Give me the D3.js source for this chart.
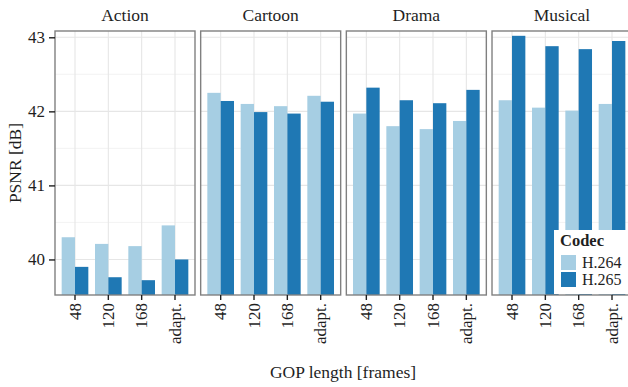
<!DOCTYPE html>
<html>
<head>
<meta charset="utf-8">
<script src="https://cdn.jsdelivr.net/npm/d3@7"></script>
<style>
  html, body { margin: 0; padding: 0; background: #fff; }
  svg { display: block; font-family: "Liberation Serif", serif; }
</style>
</head>
<body>
<svg id="chart" width="628" height="387"></svg>
<script>
// PSNR per genre, codec and GOP length
const genres = ["Action", "Cartoon", "Drama", "Musical"];
const gopLabels = ["48", "120", "168", "adapt."];
const codecs = ["H.264", "H.265"];
const yTicks = [40, 41, 42, 43];

const actionH264  = [40.30, 40.21, 40.18, 40.46];
const actionH265  = [39.90, 39.76, 39.72, 40.00];
const cartoonH264 = [42.25, 42.10, 42.07, 42.21];
const cartoonH265 = [42.14, 41.99, 41.97, 42.13];
const dramaH264   = [41.97, 41.80, 41.76, 41.87];
const dramaH265   = [42.32, 42.15, 42.11, 42.29];
const musicalH264 = [42.15, 42.05, 42.01, 42.10];
const musicalH265 = [43.02, 42.88, 42.84, 42.95];

const seriesByGenre = {
  "Action":  [actionH264, actionH265],
  "Cartoon": [cartoonH264, cartoonH265],
  "Drama":   [dramaH264, dramaH265],
  "Musical": [musicalH264, musicalH265]
};

const colors = d3.scaleOrdinal().domain(codecs).range(["#a6cee3", "#1f78b4"]);
const FONT = "Liberation Serif, serif";
const INK = "#1f1f1f";

// layout
const panelTop = 31, panelBottom = 295;
const panelX0 = 55, panelW = 140, panelStep = 145.67;

const svg = d3.select("#chart");

const y = d3.scaleLinear().domain([39.52, 43.085]).range([panelBottom, panelTop]);
const x = d3.scaleBand().domain(gopLabels).range([0, panelW]).paddingInner(0.2).paddingOuter(0.2);
const xc = d3.scaleBand().domain(codecs).range([0, x.bandwidth()]);
const minorTicks = [39.5, 40.5, 41.5, 42.5];

const defs = svg.append("defs");

genres.forEach((g, gi) => {
  const px = panelX0 + gi * panelStep;
  const panel = svg.append("g").attr("transform", `translate(${px},0)`);

  defs.append("clipPath").attr("id", "clip" + gi)
    .append("rect").attr("x", 0).attr("y", panelTop).attr("width", panelW).attr("height", panelBottom - panelTop);

  const inner = panel.append("g").attr("clip-path", `url(#clip${gi})`);

  // grid
  inner.selectAll(".minor").data(minorTicks).join("line")
    .attr("x1", 0).attr("x2", panelW)
    .attr("y1", d => y(d)).attr("y2", d => y(d))
    .attr("stroke", "#f0f0f0").attr("stroke-width", 0.8);
  inner.selectAll(".major").data(yTicks).join("line")
    .attr("x1", 0).attr("x2", panelW)
    .attr("y1", d => y(d)).attr("y2", d => y(d))
    .attr("stroke", "#e6e6e6").attr("stroke-width", 1.1);
  inner.selectAll(".vgrid").data(gopLabels).join("line")
    .attr("x1", d => x(d) + x.bandwidth() / 2).attr("x2", d => x(d) + x.bandwidth() / 2)
    .attr("y1", panelTop).attr("y2", panelBottom)
    .attr("stroke", "#e6e6e6").attr("stroke-width", 1.1);

  // bars
  const rows = [];
  seriesByGenre[g].forEach((vals, ci) => {
    vals.forEach((v, i) => rows.push({ gop: gopLabels[i], codec: codecs[ci], value: v }));
  });
  inner.selectAll("rect.bar").data(rows).join("rect")
    .attr("class", "bar")
    .attr("x", d => x(d.gop) + xc(d.codec))
    .attr("width", xc.bandwidth())
    .attr("y", d => y(d.value))
    .attr("height", d => panelBottom - y(d.value))
    .attr("fill", d => colors(d.codec));

  // border
  panel.append("rect")
    .attr("x", 0).attr("y", panelTop).attr("width", panelW).attr("height", panelBottom - panelTop)
    .attr("fill", "none").attr("stroke", "#808080").attr("stroke-width", 1.4);

  // strip label
  panel.append("text")
    .attr("x", panelW / 2).attr("y", 21)
    .attr("text-anchor", "middle")
    .attr("font-size", 17.5).attr("fill", INK)
    .text(g);

  // x axis
  const xAxis = panel.append("g").attr("transform", `translate(0,${panelBottom})`)
    .call(d3.axisBottom(x).tickSize(5).tickPadding(3));
  xAxis.select(".domain").remove();
  xAxis.selectAll(".tick line").attr("stroke", INK).attr("stroke-width", 1.4);
  xAxis.selectAll(".tick text")
    .attr("font-family", FONT)
    .attr("font-size", 17).attr("fill", INK)
    .attr("transform", "rotate(-90)")
    .attr("text-anchor", "end")
    .attr("x", -8).attr("y", 0).attr("dy", "0.33em");
});

// y axis
const yAxis = svg.append("g").attr("transform", `translate(${panelX0},0)`)
  .call(d3.axisLeft(y).tickValues(yTicks).tickFormat(d3.format("d")).tickSize(6).tickPadding(4));
yAxis.select(".domain").remove();
yAxis.selectAll(".tick line").attr("stroke", INK).attr("stroke-width", 1.4);
yAxis.selectAll(".tick text")
  .attr("font-family", FONT)
  .attr("font-size", 17).attr("fill", INK);

// axis titles
svg.append("text")
  .attr("transform", `translate(21,${(panelTop + panelBottom) / 2}) rotate(-90)`)
  .attr("text-anchor", "middle").attr("font-size", 17.5).attr("fill", INK)
  .text("PSNR [dB]");
svg.append("text")
  .attr("x", 343).attr("y", 378)
  .attr("text-anchor", "middle").attr("font-size", 17.5).attr("fill", INK)
  .text("GOP length [frames]");

// legend
const legend = svg.append("g").attr("transform", "translate(554,230)");
legend.append("rect").attr("x", 0).attr("y", 0).attr("width", 80).attr("height", 64).attr("fill", "#fff");
legend.append("text").attr("x", 6).attr("y", 16)
  .attr("font-size", 16.5).attr("font-weight", "bold").attr("fill", INK)
  .text("Codec");
codecs.forEach((c, i) => {
  legend.append("rect").attr("x", 7).attr("y", 25 + i * 17).attr("width", 15).attr("height", 15)
    .attr("fill", colors(c));
  legend.append("text").attr("x", 28).attr("y", 38 + i * 17)
    .attr("font-size", 16).attr("fill", INK)
    .text(c);
});
</script>
</body>
</html>
